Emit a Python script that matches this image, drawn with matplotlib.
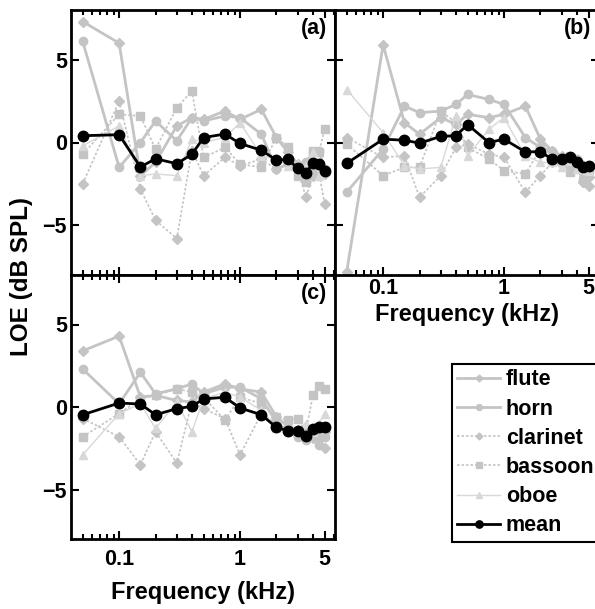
import numpy as np
import matplotlib
matplotlib.use('Agg')
import matplotlib.pyplot as plt

plt.rcParams['font.family'] = ['Liberation Sans', 'DejaVu Sans']
plt.rcParams['font.weight'] = 'bold'

freq = [0.05, 0.1, 0.15, 0.2, 0.3, 0.4, 0.5, 0.75, 1, 1.5, 2, 2.5, 3, 3.5, 4, 4.5, 5]
names = ['flute', 'horn', 'clarinet', 'bassoon', 'oboe', 'mean']

# panel (a)
flute_a = [7.3, 6.0, -2.0, -1.2, 1.0, 1.5, 1.4, 1.9, 1.4, 2.0, 0.3, -0.6, -1.3, -1.4, -1.8, -1.6, -1.9]
horn_a = [6.1, -1.5, 0.0, 1.3, 0.1, 1.5, 1.3, 1.6, 1.5, 0.5, -1.6, -1.3, -1.5, -1.2, -0.6, -0.5, -1.6]
clarinet_a = [-2.5, 2.5, -2.8, -4.7, -5.8, -0.5, -2.0, -0.9, -1.4, -1.0, -1.6, -1.3, -1.6, -3.3, -2.0, -1.8, -3.7]
bassoon_a = [-0.7, 1.7, 1.6, -0.4, 2.1, 3.1, -0.9, -0.3, -1.3, -1.5, 0.3, -0.3, -2.0, -2.4, -0.5, -0.6, 0.8]
oboe_a = [-0.2, 1.0, -2.0, -1.9, -2.0, 0.2, 0.0, 0.3, 1.2, -0.8, -1.0, -1.4, -1.3, -1.4, -0.6, -2.0, -1.8]
mean_a = [0.41, 0.47, -1.48, -0.98, -1.28, -0.71, 0.3, 0.51, -0.06, -0.47, -1.06, -1.02, -1.56, -1.87, -1.22, -1.28, -1.73]

# panel (b)
flute_b = [-7.8, 5.9, 1.2, 0.5, 1.5, 1.1, 1.7, 1.5, 1.7, 2.2, 0.2, -0.5, -0.8, -0.9, -1.3, -2.4, -2.1]
horn_b = [-3.0, -0.4, 2.2, 1.8, 1.9, 2.3, 2.9, 2.6, 2.3, 0.3, -0.3, -0.5, -1.0, -1.5, -1.0, -2.2, -1.8]
clarinet_b = [0.3, -0.9, -0.8, -3.3, -2.0, -0.3, -0.1, -0.7, -0.9, -3.0, -2.0, -1.2, -1.3, -1.0, -1.4, -2.4, -2.6]
bassoon_b = [-0.1, -2.0, -1.5, -1.5, 1.9, 1.2, -0.3, -1.0, -1.7, -1.9, -0.4, -1.0, -1.2, -1.8, -1.4, -1.5, -1.5]
oboe_b = [3.2, 0.6, -1.4, -1.6, -1.5, 1.6, -0.8, 0.8, 1.5, -0.8, -1.2, -1.2, -1.5, -1.1, -1.6, -1.3, -1.7]
mean_b = [-1.26, 0.2, 0.14, -0.04, 0.37, 0.41, 1.08, 0.0, 0.2, -0.57, -0.55, -1.02, -1.02, -0.87, -1.18, -1.46, -1.42]

# panel (c)
flute_c = [3.4, 4.3, 0.6, 0.7, 0.4, 0.3, 0.9, 1.4, 1.1, 0.9, -0.6, -1.2, -1.4, -1.3, -1.6, -1.9, -2.5]
horn_c = [2.3, 0.2, 2.1, 0.8, 1.1, 1.4, 0.8, 1.2, 1.2, 0.5, -0.9, -1.5, -1.8, -2.0, -1.8, -2.3, -1.8]
clarinet_c = [-0.7, -1.8, -3.5, -1.5, -3.4, 0.3, -0.1, -0.7, -2.9, -0.4, -1.0, -1.4, -1.7, -1.2, -1.9, -1.3, -1.5]
bassoon_c = [-1.8, -0.4, 0.5, 0.7, 1.1, 0.9, 0.6, -0.8, 0.6, 0.2, -0.6, -0.8, -0.7, -1.5, 0.7, 1.3, 1.1]
oboe_c = [-2.9, -0.4, 0.2, -1.3, 0.3, -1.5, 0.5, 0.9, 0.6, -0.2, -1.3, -1.4, -1.5, -1.0, -1.5, -1.0, -0.4]
mean_c = [-0.47, 0.24, 0.18, -0.47, -0.1, 0.04, 0.49, 0.59, -0.06, -0.47, -1.24, -1.44, -1.44, -1.74, -1.34, -1.22, -1.22]

panels = {
    '(a)': [flute_a, horn_a, clarinet_a, bassoon_a, oboe_a, mean_a],
    '(b)': [flute_b, horn_b, clarinet_b, bassoon_b, oboe_b, mean_b],
    '(c)': [flute_c, horn_c, clarinet_c, bassoon_c, oboe_c, mean_c],
}

grey = '#c4c4c4'
styles = [
    dict(color=grey, lw=2.0, ls='-', marker='D', ms=5),
    dict(color=grey, lw=2.0, ls='-', marker='o', ms=6),
    dict(color=grey, lw=1.2, ls=(0, (1.5, 1.2)), marker='D', ms=5),
    dict(color=grey, lw=1.2, ls=(0, (1.5, 1.2)), marker='s', ms=5.5),
    dict(color='#d8d8d8', lw=1.0, ls='-', marker='^', ms=6),
    dict(color='black', lw=2.0, ls='-', marker='o', ms=7.5),
]

fig = plt.figure(figsize=(5.95, 6.09), dpi=100)
W, H = 595, 609
boxes = {
    '(a)': [71 / W, 1 - 275 / H, 264 / W, 265 / H],
    '(b)': [335 / W, 1 - 275 / H, 264 / W, 265 / H],
    '(c)': [71 / W, 1 - 539 / H, 264 / W, 264 / H],
}

minor = [0.05, 0.06, 0.07, 0.08, 0.09, 0.2, 0.3, 0.4, 0.5, 0.6, 0.7, 0.8, 0.9, 2, 3, 4, 6]

lines = []
for tag, series in panels.items():
    ax = fig.add_axes(boxes[tag])
    lines = []
    for ys, st in zip(series, styles):
        l, = ax.plot(freq, ys, mec=st['color'], mfc=st['color'], **st)
        lines.append(l)
    ax.set_xscale('log')
    ax.set_xlim(0.04, 6.1)
    ax.set_ylim(-8, 8)
    ax.set_yticks([-5, 0, 5])
    ax.set_xticks([0.1, 1, 5])
    ax.set_xticks(minor, minor=True)
    ax.set_xticklabels(['0.1', '1', '5'])
    ax.set_xticklabels([], minor=True)
    ax.tick_params(which='both', direction='in', top=True, right=True, width=1.5,
                   labelsize=15.5)
    ax.tick_params(which='major', length=6)
    ax.tick_params(which='minor', length=3.5)
    ax.tick_params(axis='y', pad=3)
    for s in ax.spines.values():
        s.set_linewidth(2)
    ax.text(0.97, 0.97, tag, transform=ax.transAxes, ha='right', va='top',
            fontsize=15.5, fontweight='bold')
    if tag == '(a)':
        ax.set_xticklabels([])
    if tag == '(b)':
        ax.set_yticklabels([])
        ax.tick_params(axis='x', pad=2)
        ax.set_xlabel('Frequency (kHz)', fontsize=17, fontweight='bold', labelpad=3)
    if tag == '(c)':
        ax.tick_params(axis='x', pad=7)
        ax.set_xlabel('Frequency (kHz)', fontsize=17, fontweight='bold', labelpad=8)

fig.text(22 / W, 1 - 277 / H, 'LOE (dB SPL)', rotation=90, ha='center', va='center',
         fontsize=17.5, fontweight='bold')

leg = fig.legend(lines, names, loc='upper left', bbox_to_anchor=(452 / W, 1 - 364 / H),
                 fancybox=False, edgecolor='black', fontsize=15.5, handlelength=2.0,
                 handletextpad=0.25, labelspacing=0.38, borderpad=0.25, markerscale=0.7,
                 borderaxespad=0)
leg.get_frame().set_linewidth(1.5)
leg.get_frame().set_alpha(1)
for t in leg.get_texts():
    t.set_fontweight('bold')

fig.savefig('out.png', dpi=100)
